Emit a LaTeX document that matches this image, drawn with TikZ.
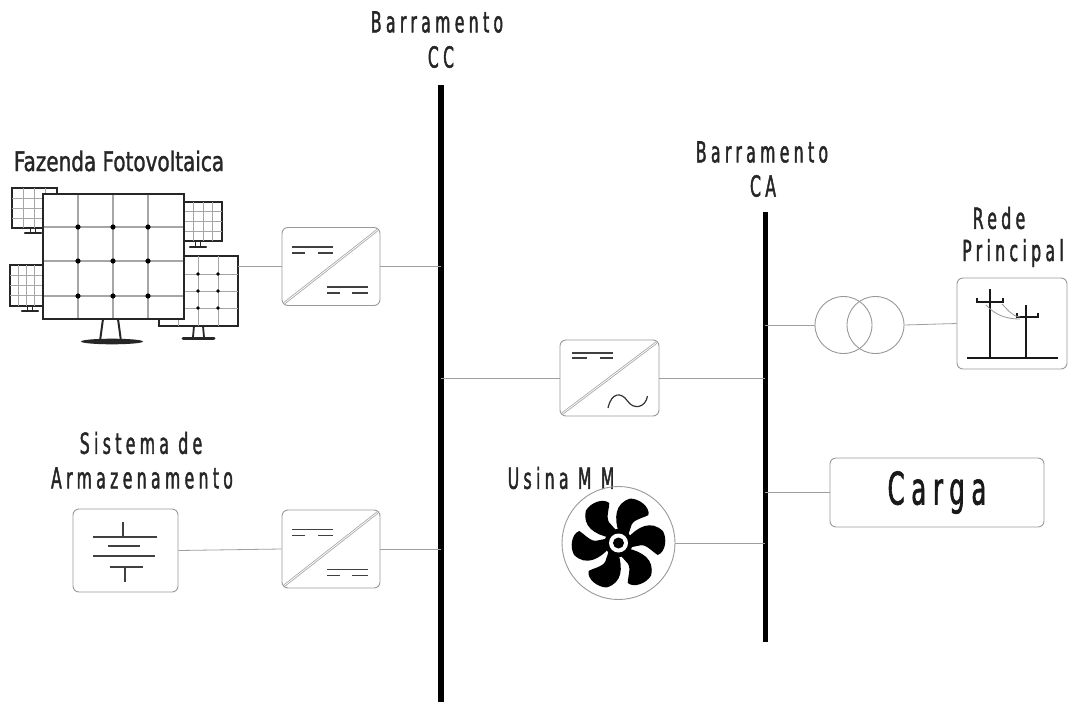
\documentclass[tikz,border=0pt]{standalone}
\usepackage{fontspec}
\newfontfamily\agency[FakeStretch=0.74,FakeBold=1.2]{DejaVu Sans}
\newfontfamily\agencysp[FakeStretch=0.54,FakeBold=1.4,LetterSpace=15]{DejaVu Sans}
\begin{document}
\begin{tikzpicture}[x=1pt,y=-1pt,
  wire/.style={draw=gray!75, line width=0.8pt},
  bus/.style={line width=5.5pt, black},
  conv/.style={draw=gray!80, line width=0.9pt, rounded corners=6pt, minimum width=98pt, minimum height=78pt, fill=white},
  iconbox/.style={draw=gray!80, line width=0.9pt, rounded corners=6pt, fill=white},
  lbl/.style={text=black!85, inner sep=0pt, font=\agencysp\fontsize{29}{31}\selectfont},
  dcline/.style={draw=black!75, line width=1.4pt},
  grid/.style={draw=gray!70, line width=1pt},
  frame/.style={draw=black!85, line width=1.6pt, fill=white}
]
\useasboundingbox (0,0) rectangle (1074,702);
\fill[white] (0,0) rectangle (1074,702);

% ---- buses
\coordinate (dctop) at (441,85);
\coordinate (dcbot) at (441,702);
\coordinate (actop) at (765,212);
\coordinate (acbot) at (765,642);
\draw[bus] (dctop) -- (dcbot);
\draw[bus, line width=5pt] (actop) -- (acbot);

\node[lbl] (bcc) at (437,22) {Barramento};
\node[lbl] (cc) at (441,57) {CC};
\node[lbl] (bca) at (762,152) {Barramento};
\node[lbl] (ca) at (763,186) {CA};

% ---- converters
\node[conv] (c1) at (331,266.5) {};
\node[conv] (c2) at (331,549) {};
\node[conv, minimum width=99pt, minimum height=76pt] (c3) at (609.5,378) {};

% diagonal double stroke inside each converter
\foreach \c in {c1,c2,c3}{
  \draw[gray!70, line width=2.4pt] ([shift={(3,-3)}]\c.south west) -- ([shift={(-3,3)}]\c.north east);
  \draw[white, line width=0.8pt] ([shift={(3,-3)}]\c.south west) -- ([shift={(-3,3)}]\c.north east);
}
% DC symbols
\foreach \c in {c1,c2}{
  \begin{scope}[shift={(\c.center)}]
    \draw[dcline] (-39,-19.5) -- (2,-19.5);
    \draw[dcline] (-39,-13.5) -- (-26,-13.5) (-13,-13.5) -- (2,-13.5);
    \draw[dcline] (-4,20.5) -- (37,20.5);
    \draw[dcline] (-4,26.5) -- (9,26.5) (21,26.5) -- (37,26.5);
  \end{scope}
}
\begin{scope}[shift={(c3.center)}]
  \draw[dcline] (-37.5,-25) -- (3.5,-25);
  \draw[dcline] (-37.5,-20) -- (-22.5,-20) (-9.5,-20) -- (3.5,-20);
  \draw[black!80, line width=1.2pt] (-1.5,30) .. controls (2,14) and (12,14) .. (18,23)
        .. controls (24,32) and (36,30) .. (38,18);
\end{scope}

% ---- PV farm
\node[text=black!85, inner sep=0pt, font=\agency\fontsize{27}{29}\selectfont] (pvlbl) at (119,161) {Fazenda Fotovoltaica};
\begin{scope}
  % small panels behind
  \foreach \xa/\ya/\xb/\yb/\sx/\sy in {12/188/57/228/33/233, 184/202/222/241/198/247, 10/265/43/306/30/311}{
    \draw[frame, line width=1.3pt] (\xa,\ya) rectangle (\xb,\yb);
    \foreach \i in {1,2,3}{
      \draw[grid, line width=0.7pt] ({\xa+(\xb-\xa)*\i/4},\ya) -- ({\xa+(\xb-\xa)*\i/4},\yb);
    }
    \foreach \i in {1,2,3}{
      \draw[grid, line width=0.7pt] (\xa,{\ya+(\yb-\ya)*\i/4}) -- (\xb,{\ya+(\yb-\ya)*\i/4});
    }
    \draw[black!85, line width=1.4pt] (\sx-2.5,\yb) -- (\sx-2.5,\sy) (\sx+2.5,\yb) -- (\sx+2.5,\sy);
    \draw[black!85, line width=2.4pt, line cap=round] (\sx-8,\sy) -- (\sx+8,\sy);
  }
  % bottom right panel
  \draw[frame, line width=1.4pt] (159,256) rectangle (238,326);
  \foreach \x in {178,198,218}{ \draw[grid] (\x,256) -- (\x,326); }
  \foreach \y in {274,291,308}{ \draw[grid] (159,\y) -- (238,\y); }
  \foreach \x in {198,218}{ \foreach \y in {274,291,308}{ \fill (\x,\y) circle (1.8); } }
  \draw[black!85, line width=1.8pt] (194,326) -- (193,337) (203,326) -- (204,337);
  \draw[black!85, line width=3pt, line cap=round] (183,338) -- (214,338);
  % main panel
  \draw[black!85, line width=2pt] (103,319) -- (100,341) (118,319) -- (121,341);
  \fill[black!85] (112,341.5) ellipse (31 and 2.8);
  \draw[frame] (43,194) rectangle (184,319);
  \foreach \x in {78,113,148}{ \draw[grid, line width=1.2pt] (\x,194) -- (\x,319); }
  \foreach \y in {227,261,296}{ \draw[grid, line width=1.2pt] (43,\y) -- (184,\y); }
  \foreach \x in {78,113,148}{ \foreach \y in {227,261,296}{ \fill (\x,\y) circle (2.6); } }
  \draw[frame, fill=none] (43,194) rectangle (184,319);
\end{scope}
\coordinate (pvout) at (238,266.5);

% ---- storage
\node[lbl] (sis) at (141,443) {Sistema de};
\node[lbl] (arm) at (142,478) {Armazenamento};
\node[iconbox, minimum width=105pt, minimum height=83pt] (bat) at (125.5,550.5) {};
\begin{scope}[shift={(bat.center)}, black!75, line width=1.4pt]
  \draw (-33,-13.5) -- (31.5,-13.5) (-2.5,-28.5) -- (-2.5,-13.5);
  \draw (-17.5,-4.5) -- (14.5,-4.5);
  \draw (-32.5,5.5) -- (29.5,5.5);
  \draw (-15.5,16.5) -- (17.5,16.5) (-0.5,16.5) -- (-0.5,31.5);
\end{scope}

% ---- MM plant (fan)
\node[lbl] (usina) at (561,478) {Usina M M};
\node[draw=gray!80, line width=0.9pt, circle, minimum size=113pt, inner sep=0pt] (fan) at (618.5,543) {};
\begin{scope}[shift={(fan.center)}]
  \foreach \k in {0,...,5}{
    \fill[black, rotate=60*\k]
      (-28:10) .. controls (-40:25) and (-36:40) .. (-15:46)
      .. controls (-5:49) and (11:48) .. (17:41)
      .. controls (13:33) and (0:27) .. (8:20)
      .. controls (14:15) and (24:12) .. (30:10) -- cycle;
  }
  \fill[black] (0,0) circle (14);
  \fill[white] (0,0) circle (9.5);
  \fill[black] (0,0) circle (5.5);
\end{scope}

% ---- transformer and grid
\node[draw=gray!80, line width=0.9pt, circle, minimum size=57pt, inner sep=0pt] (tr1) at (843.5,325) {};
\node[draw=gray!80, line width=0.9pt, circle, minimum size=57pt, inner sep=0pt] (tr2) at (875.5,325) {};
\node[lbl] (rede) at (999,218) {Rede};
\node[lbl] (princ) at (1013,253) {Principal};
\node[iconbox, minimum width=110pt, minimum height=91pt] (grd) at (1012,323.5) {};
\begin{scope}[black!90]
  \draw[line width=2.6pt] (967,358) -- (1058,358);
  \draw[line width=2.6pt] (990,289) -- (990,358);
  \draw[line width=2.6pt] (1026,305) -- (1026,358);
  \draw[line width=1.8pt] (977,298) -- (977,302) -- (1003,302) -- (1003,298);
  \draw[line width=1.8pt] (1017,313) -- (1017,317) -- (1038,317) -- (1038,313);
  \draw[gray!80, line width=0.8pt] (986,305) .. controls (996,316) and (1008,319) .. (1020,319);
  \draw[gray!80, line width=0.8pt] (1002,304) .. controls (1008,310) and (1012,316) .. (1020,317);
\end{scope}

% ---- load
\node[iconbox, minimum width=214pt, minimum height=69pt,
      text=black!90, font=\agencysp\fontsize{45}{47}\selectfont] (carga) at (937,492.5) {Carga};

% ---- connections
\draw[wire] (pvout) -- (c1.west);
\draw[wire] (c1.east) -- (c1.east -| dctop);
\draw[wire] (bat.east) -- (c2.west);
\draw[wire] (c2.east) -- (c2.east -| dctop);
\draw[wire] (c3.west -| dctop) -- (c3.west);
\draw[wire] (c3.east) -- (c3.east -| actop);
\draw[wire] (fan.east) -- (fan.east -| actop);
\draw[wire] (tr1.west -| actop) -- (tr1.west);
\draw[wire] (tr2.east) -- (grd.west);
\draw[wire] (carga.west -| actop) -- (carga.west);
\end{tikzpicture}
\end{document}
